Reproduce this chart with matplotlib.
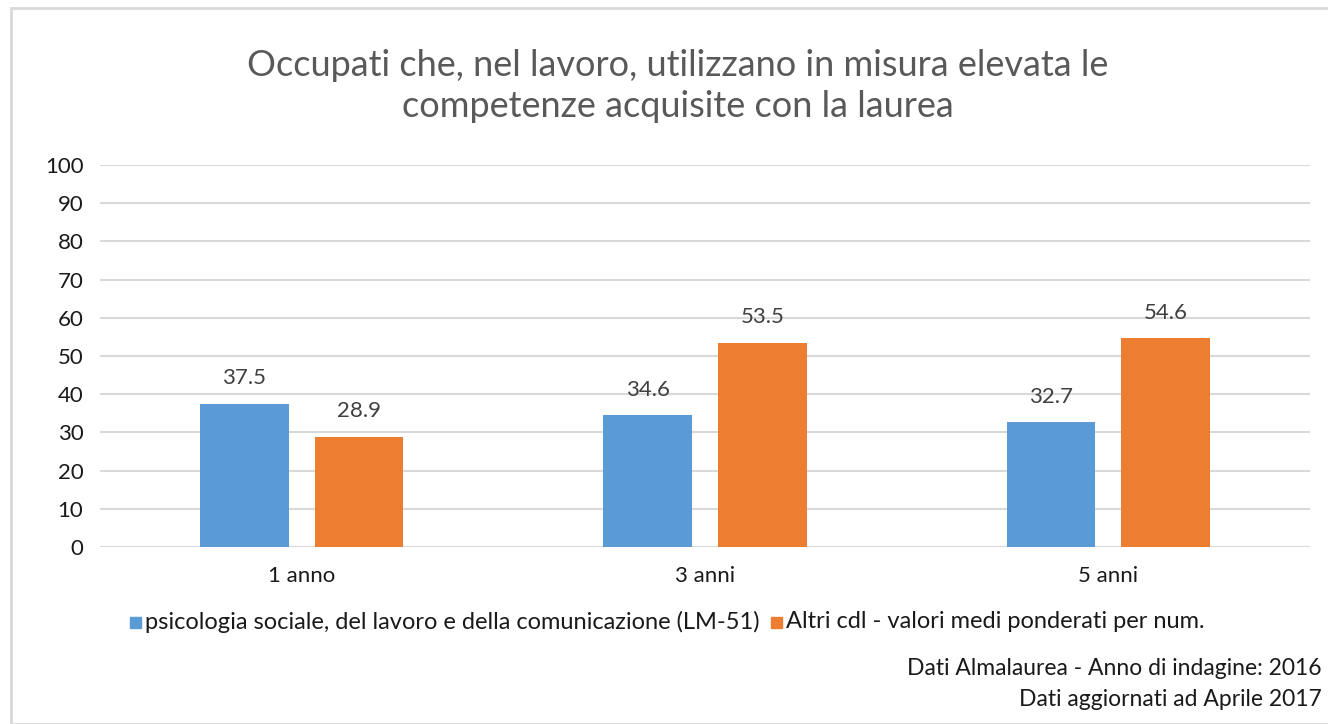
import matplotlib
matplotlib.use("Agg")
import matplotlib.pyplot as plt
import numpy as np
from matplotlib.patches import Rectangle

categories = ["1 anno", "3 anni", "5 anni"]
series_names = ["psicologia sociale, del lavoro e della comunicazione (LM-51)",
                "Altri cdl - valori medi ponderati per num."]
lm51 = [37.5, 34.6, 32.7]
altri = [28.9, 53.5, 54.6]
yticks = list(range(0, 101, 10))
title = "Occupati che, nel lavoro, utilizzano in misura elevata le\ncompetenze acquisite con la laurea"
footnote = "Dati Almalaurea - Anno di indagine: 2016\nDati aggiornati ad Aprile 2017"

plt.rcParams['font.family'] = ['Lato', 'DejaVu Sans']

W, H = 1328, 724
fig = plt.figure(figsize=(W/100, H/100), dpi=100)
fig.patch.set_facecolor("white")

# outer border
fig.add_artist(Rectangle((11/W, 0), 1 - 11/W + 0.01, 1 - 8/H, transform=fig.transFigure,
                         fill=False, edgecolor="#D9D9D9", linewidth=2))

ax = fig.add_axes([100/W, 1 - 547/H, 1210/W, (547-165)/H])
x = np.arange(len(categories))
bw = 0.22
off = 0.142
colors = ["#5B9BD5", "#ED7D31"]
b1 = ax.bar(x - off, lm51, bw, color=colors[0], zorder=3)
b2 = ax.bar(x + off, altri, bw, color=colors[1], zorder=3)
for bars, vals in ((b1, lm51), (b2, altri)):
    for r, v in zip(bars, vals):
        ax.text(r.get_x() + r.get_width()/2, v + 4, f"{v:.1f}", ha="center", va="bottom",
                fontsize=16, color="#404040")

ax.set_xlim(-0.5, 2.5)
ax.set_ylim(0, 100)
ax.set_yticks(yticks)
ax.set_yticklabels([str(t) for t in yticks], fontsize=16, color="#1a1a1a")
ax.set_xticks(x)
ax.set_xticklabels(categories, fontsize=16, color="#1a1a1a")
ax.tick_params(length=0, pad=12, axis="y")
ax.tick_params(length=0, pad=14, axis="x")
ax.grid(axis="y", color="#D9D9D9", linewidth=1.5, zorder=0)
for s in ax.spines.values():
    s.set_visible(False)

fig.text(678/W, 1 - 86/H, title, ha="center", va="center", fontsize=26, color="#595959",
         linespacing=1.3)

# legend
ly = 1 - 622/H
sq = 11
fig.add_artist(Rectangle((130/W, ly - sq/2/H), sq/W, sq/H, transform=fig.transFigure,
                         color=colors[0]))
fig.text(145/W, ly, series_names[0], ha="left", va="center", fontsize=17, color="#1a1a1a")
fig.add_artist(Rectangle((771/W, ly - sq/2/H), sq/W, sq/H, transform=fig.transFigure,
                         color=colors[1]))
fig.text(786/W, ly, series_names[1], ha="left", va="center", fontsize=17, color="#1a1a1a")

fig.text(1322/W, 1 - 684/H, footnote, ha="right", va="center", fontsize=16.5, color="#1a1a1a",
         linespacing=1.55)

fig.savefig("out.png", dpi=100)
